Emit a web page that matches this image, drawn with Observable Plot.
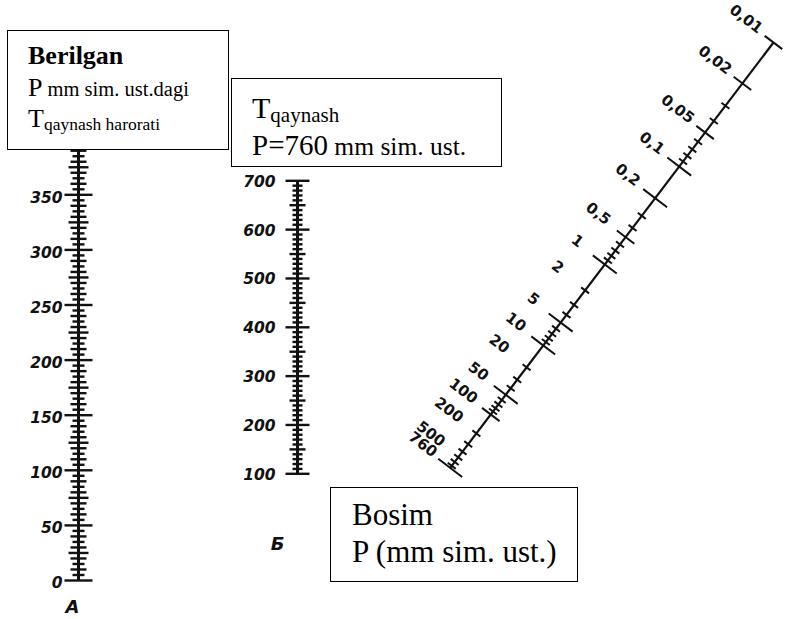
<!DOCTYPE html>
<html><head><meta charset="utf-8">
<script src="https://cdn.jsdelivr.net/npm/d3@7"></script>
<script src="https://cdn.jsdelivr.net/npm/@observablehq/plot@0.6"></script>
<style>
body{margin:0;background:#fff;}
#wrap{position:relative;width:791px;height:619px;overflow:hidden;background:#fff;}
#wrap svg{position:absolute;left:0;top:0;}
.box{position:absolute;border:1.5px solid #000;background:#fff;box-sizing:border-box;}
.ln{position:absolute;white-space:nowrap;font-family:"Liberation Serif","Times New Roman",serif;color:#000;line-height:1;}
</style></head><body>
<div id="wrap"></div>
<script>
// ---- data ----
const aLabels = [0, 50, 100, 150, 200, 250, 300, 350];
const aTicks = d3.range(0, 401, 5);
const bLabels = [100, 200, 300, 400, 500, 600, 700];
const bTicks = d3.range(100, 701, 10);
const pLabels = [0.01, 0.02, 0.05, 0.1, 0.2, 0.5, 1, 2, 5, 10, 20, 50, 100, 200, 500, 760];
const pLabelText = ["0,01","0,02","0,05","0,1","0,2","0,5","1","2","5","10","20","50","100","200","500","760"];
const pLong = [0.1, 0.2, 1, 5, 10, 50, 760];
const pMedium = [0.01, 0.02, 0.05, 0.5, 100];
const pShort = [0.03,0.04,0.06,0.07,0.08,0.09,0.3,0.4,0.6,0.7,0.8,0.9,2,3,4,6,7,8,9,20,30,40,60,70,80,90,200,300,400,500,600,700];
const axisNames = ["А", "Б"];

// ---- nomogram layout (scale geometry) ----
const W = 791, H = 619;
const A_X = 78;
const yA = d3.scaleLinear([0, 350], [580, 194.3]);
const B_X = 297;
const yB = d3.scaleLinear([100, 700], [473.3, 180.3]);
// pressure scale: non-linear (log-based) placed along a slanted line
const P0 = [773, 42], U = [-0.605, 0.796], N = [0.796, 0.605];
const pK = 588.6, pC = 3.3;
const pT = v => pK * Math.log((Math.log10(v / 0.01) + pC) / pC);
const pX = v => P0[0] + U[0] * pT(v);
const pY = v => P0[1] + U[1] * pT(v);
const angle = Math.atan2(N[1], N[0]) * 180 / Math.PI;

const aLen = v => v % 50 === 0 ? 14 : v % 25 === 0 ? 10 : v % 10 === 0 ? 8 : 6;
const bLen = v => v % 100 === 0 ? 12 : v % 50 === 0 ? 8 : 5;

const pTicks = [
  ...pLong.map(v => ({v, len: 15})),
  ...pMedium.map(v => ({v, len: 11})),
  ...pShort.map(v => ({v, len: 5}))
];
const pLab = pLabels.map((v, i) => ({v, t: pLabelText[i]}));

const numFont = {fontFamily: "DejaVu Sans, sans-serif", fontStyle: "italic", fontWeight: "bold", fontSize: 15.5, fill: "#111"};

const plot = Plot.plot({
  width: W, height: H, margin: 0,
  x: {domain: [0, W], range: [0, W], axis: null},
  y: {domain: [0, H], range: [0, H], axis: null},
  style: {background: "transparent"},
  marks: [
    // scale A
    Plot.link([[0, 400]], {x1: () => A_X, x2: () => A_X, y1: d => yA(d[0]), y2: d => yA(d[1]), stroke: "#111", strokeWidth: 3}),
    Plot.link(aTicks, {x1: v => A_X - aLen(v), x2: v => A_X + aLen(v), y1: v => yA(v), y2: v => yA(v), stroke: "#111", strokeWidth: 2.4}),
    Plot.text(aLabels, {x: () => A_X - 16, y: v => yA(v) + 3, text: v => String(v), textAnchor: "end", ...numFont}),
    // scale Б
    Plot.link([[100, 700]], {x1: () => B_X, x2: () => B_X, y1: d => yB(d[0]), y2: d => yB(d[1]), stroke: "#111", strokeWidth: 3}),
    Plot.link(bTicks, {x1: v => B_X - bLen(v), x2: v => B_X + bLen(v), y1: v => yB(v), y2: v => yB(v), stroke: "#111", strokeWidth: 2.4}),
    Plot.text(bLabels, {x: () => B_X - 22, y: v => yB(v) + 1, text: v => String(v), textAnchor: "end", ...numFont}),
    // axis names
    Plot.text(axisNames, {
      x: (d, i) => i === 0 ? A_X - 6 : B_X - 20,
      y: (d, i) => i === 0 ? yA(0) + 27 : yB(100) + 70,
      text: d => d, ...numFont, fontSize: 18
    }),
    // pressure scale P
    Plot.link([[0.01, 760]], {x1: d => pX(d[0]), y1: d => pY(d[0]), x2: d => pX(d[1]), y2: d => pY(d[1]), stroke: "#111", strokeWidth: 2.2}),
    Plot.link(pTicks, {
      x1: d => pX(d.v) - N[0] * d.len, y1: d => pY(d.v) - N[1] * d.len,
      x2: d => pX(d.v) + N[0] * d.len, y2: d => pY(d.v) + N[1] * d.len,
      stroke: "#111", strokeWidth: 2
    }),
    Plot.text(pLab, {
      x: d => pX(d.v) - N[0] * 36 - U[0] * 2,
      y: d => pY(d.v) - N[1] * 36 - U[1] * 2,
      text: d => d.t, rotate: angle, textAnchor: "middle", ...numFont, fontStyle: "normal", fontSize: 15
    })
  ]
});
const wrap = document.getElementById("wrap");
wrap.appendChild(plot);

// ---- annotation boxes ----
function box(l, t, w, h) {
  const d = document.createElement("div");
  d.className = "box";
  Object.assign(d.style, {left: l + "px", top: t + "px", width: w + "px", height: h + "px"});
  wrap.appendChild(d);
}
function line(l, baseline, fs, html, extra) {
  const d = document.createElement("div");
  d.className = "ln";
  d.style.left = l + "px";
  d.style.top = (baseline - 0.8375 * fs) + "px";
  d.style.fontSize = fs + "px";
  if (extra) Object.assign(d.style, extra);
  d.innerHTML = html;
  wrap.appendChild(d);
}
box(7, 30, 222, 120);
line(28, 65, 26, "Berilgan", {fontWeight: "bold"});
line(28, 97, 26, 'P<span style="font-size:20.5px"> mm sim. ust.dagi</span>');
line(28, 128, 26, 'T<span style="font-size:17.5px;position:relative;top:3px">qaynash harorati</span>');

box(231, 78, 271, 89);
line(252, 118, 30, 'T<span style="font-size:21px;position:relative;top:4px">qaynash</span>');
line(252, 155, 29, 'P=760<span style="font-size:25.5px"> mm sim. ust.</span>');

box(330, 487, 248, 95);
line(352, 525, 31, "Bosim");
line(352, 562, 31, "P (mm sim. ust.)");
</script>
</body></html>
